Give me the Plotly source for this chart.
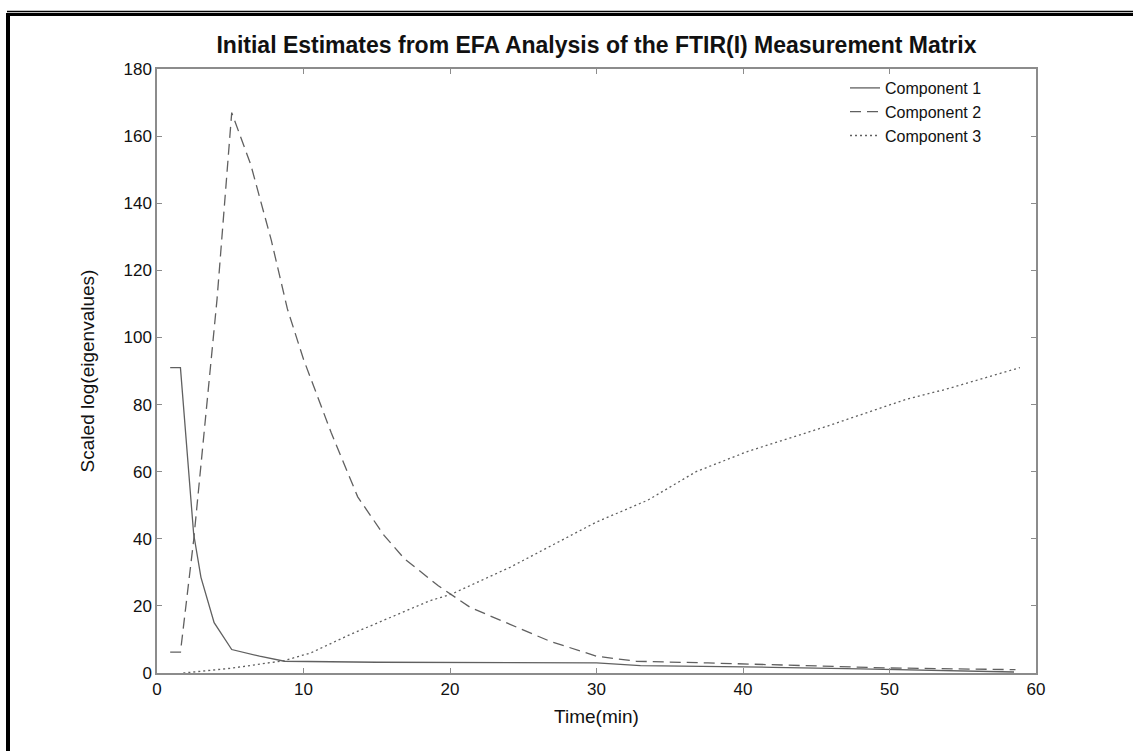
import plotly.graph_objects as go

# ---- data ----
t1 = [0.9, 1.6, 2.5, 3.0, 3.9, 5.1, 7.0, 8.7, 15.0, 20.0, 25.0, 30.0, 33.0, 38.0, 42.0, 48.0, 53.0, 58.5]
c1 = [91.0, 91.0, 41.5, 28.5, 15.0, 7.0, 5.0, 3.5, 3.2, 3.1, 3.1, 3.0, 2.2, 2.0, 1.7, 1.2, 0.8, 0.3]

t2 = [0.9, 1.6, 2.5, 4.1, 5.1, 6.4, 7.8, 8.9, 10.0, 11.9, 13.7, 15.5, 16.9, 19.2, 21.4, 24.1, 26.8, 30.0, 32.7, 37.6, 45.7, 50.0, 58.6]
c2 = [6.2, 6.2, 39.5, 111.5, 167.0, 151.5, 129.0, 108.5, 93.5, 71.5, 52.5, 41.0, 34.0, 26.0, 19.5, 14.5, 9.5, 5.0, 3.5, 3.0, 2.0, 1.5, 1.0]

t3 = [1.8, 5.2, 8.7, 10.5, 13.2, 18.6, 20.1, 24.1, 30.0, 33.5, 36.8, 40.3, 45.7, 48.4, 51.1, 53.8, 58.9]
c3 = [0.0, 1.5, 3.7, 6.0, 11.5, 21.5, 23.5, 31.5, 45.0, 51.5, 60.0, 66.0, 73.5, 77.5, 81.5, 84.5, 91.0]

names = ["Component 1", "Component 2", "Component 3"]
x_ticks = [0, 10, 20, 30, 40, 50, 60]
y_ticks = [0, 20, 40, 60, 80, 100, 120, 140, 160, 180]

W, H = 1133, 751
L, R, T, B = 157, 97, 69, 78
pw, ph = W - L - R, H - T - B

def px(x):
    return (x - L) / pw

def py(y):
    return (H - B - y) / ph

FONT = "Liberation Sans, Arial, sans-serif"
LC = "#606060"
AX = "#8c8c8c"

fig = go.Figure()
fig.add_trace(go.Scatter(x=t1, y=c1, mode="lines", name=names[0],
                         line=dict(color=LC, width=1.3, dash="solid")))
fig.add_trace(go.Scatter(x=t2, y=c2, mode="lines", name=names[1],
                         line=dict(color=LC, width=1.3, dash="11px,6px")))
fig.add_trace(go.Scatter(x=t3, y=c3, mode="lines", name=names[2],
                         line=dict(color=LC, width=1.3, dash="2px,3px")))

axis_common = dict(showgrid=False, zeroline=False, showline=True, linecolor=AX,
                   linewidth=1.5, mirror="ticks", ticks="inside", ticklen=5,
                   tickcolor=AX, tickwidth=1,
                   tickfont=dict(family=FONT, size=17, color="#111"))

fig.update_xaxes(range=[0, 60], tickvals=x_ticks, ticktext=[str(v) for v in x_ticks],
                 title=dict(text="Time(min)", font=dict(family=FONT, size=19, color="#111"), standoff=12),
                 **axis_common)
fig.update_yaxes(range=[0, 180], tickvals=y_ticks, ticktext=[str(v) for v in y_ticks],
                 title=dict(text="Scaled log(eigenvalues)", font=dict(family=FONT, size=19, color="#111"), standoff=24),
                 **axis_common)

shapes = [
    dict(type="line", xref="paper", yref="paper", x0=px(7), x1=px(W + 5), y0=py(11.5), y1=py(11.5),
         line=dict(color="black", width=1.5)),
    dict(type="line", xref="paper", yref="paper", x0=px(6), x1=px(W + 5), y0=py(14.5), y1=py(14.5),
         line=dict(color="black", width=3)),
    dict(type="line", xref="paper", yref="paper", x0=px(8), x1=px(8), y0=py(13), y1=py(H + 5),
         line=dict(color="black", width=4)),
]

fig.update_layout(
    width=W, height=H,
    margin=dict(l=L, r=R, t=T, b=B),
    paper_bgcolor="white", plot_bgcolor="white",
    title=dict(text="<b>Initial Estimates from EFA Analysis of the FTIR(I) Measurement Matrix</b>",
               x=(L + pw / 2) / W, xanchor="center", y=1 - 45 / H, yanchor="middle",
               font=dict(family=FONT, size=23, color="#111")),
    legend=dict(x=px(845), y=py(71), xanchor="left", yanchor="top", bgcolor="rgba(0,0,0,0)",
                borderwidth=0, font=dict(family=FONT, size=16, color="#111"),
                tracegroupgap=0, itemwidth=30),
    shapes=shapes,
    showlegend=True,
)

fig.write_html("out.html", config={"displayModeBar": False},
               post_script="document.body.style.margin='0';")
